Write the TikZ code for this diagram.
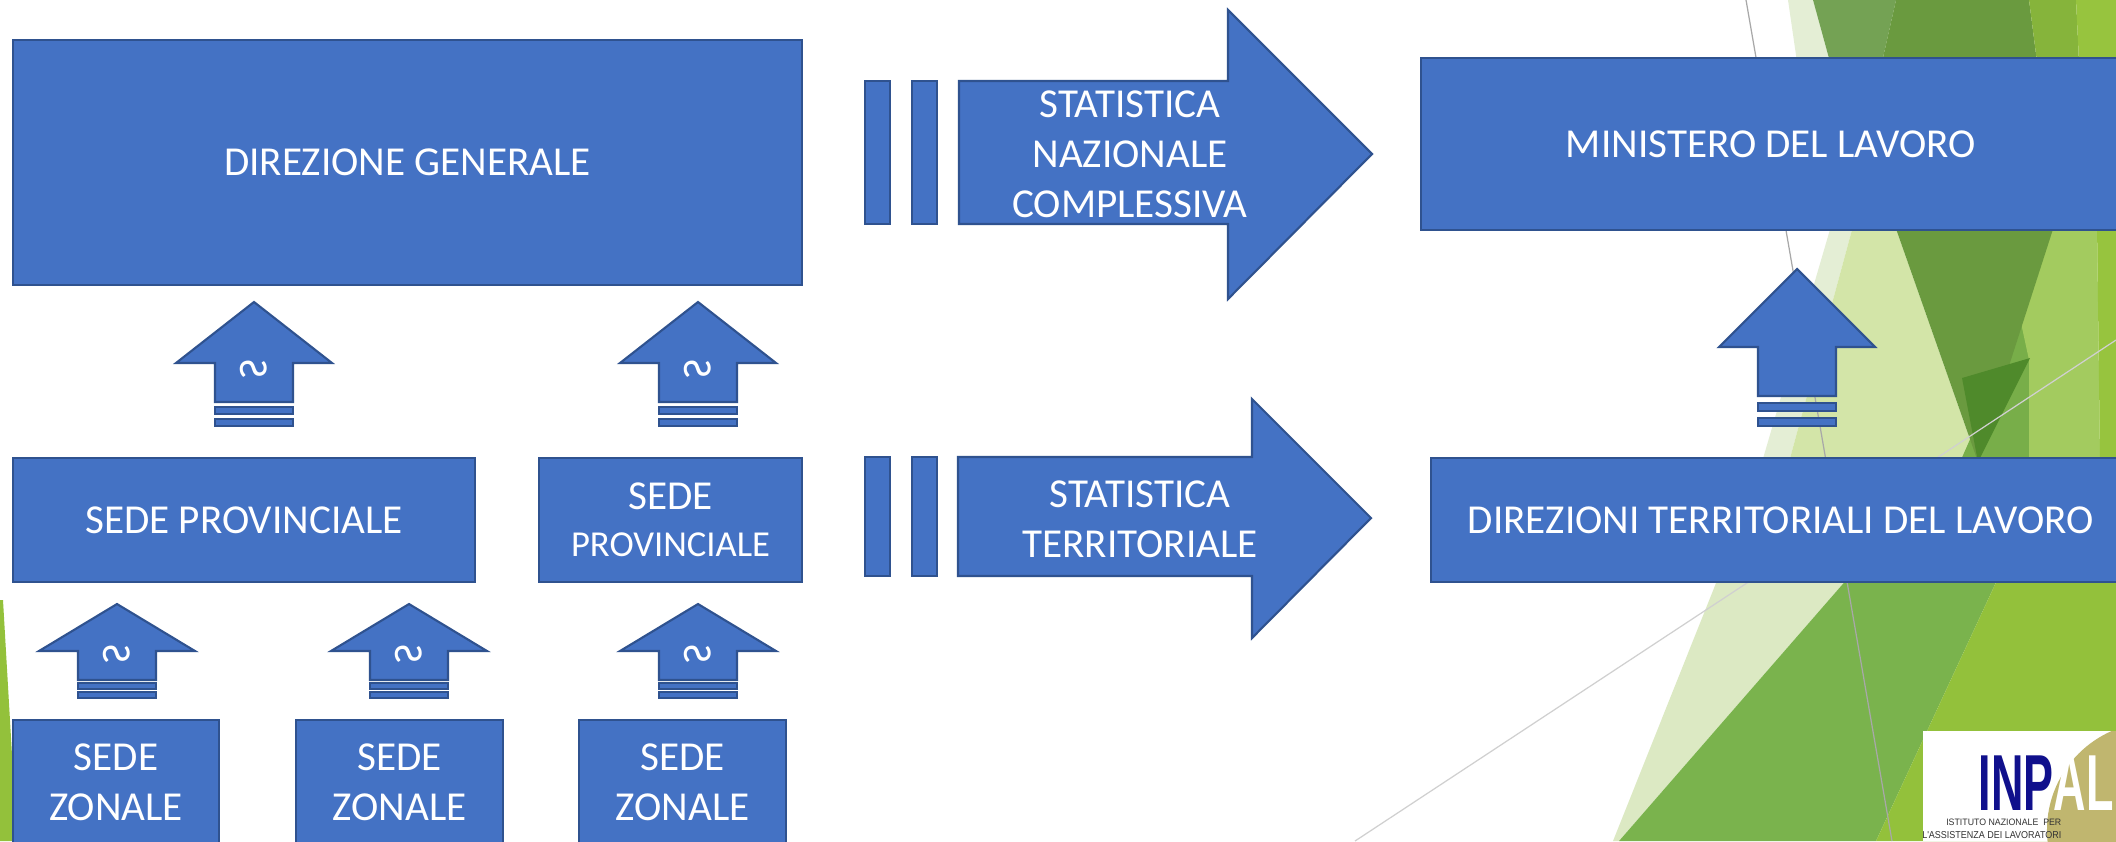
\documentclass[tikz,border=0pt]{standalone}
\usepackage{fontspec}
\usepackage{graphicx}
\usepackage{xcolor}
\usepackage{tikz}
\setmainfont{Carlito}
\newfontfamily\logofont{Liberation Sans}
\definecolor{boxfillc}{HTML}{4472C4}
\definecolor{boxlinec}{HTML}{2F528F}
\definecolor{vpale}{HTML}{E4EED5}
\definecolor{palegreen}{HTML}{D3E5A8}
\definecolor{palec}{HTML}{DCE9C3}
\definecolor{olivelight}{HTML}{74A254}
\definecolor{olive}{HTML}{6A9A3F}
\definecolor{darkolive}{HTML}{4F8A2B}
\definecolor{limeolive}{HTML}{86B43B}
\definecolor{brightlime}{HTML}{97C43E}
\definecolor{lightgreen}{HTML}{A3CB5F}
\definecolor{midgreen}{HTML}{7AB34D}
\definecolor{gmid}{HTML}{78AE49}
\definecolor{lime}{HTML}{93C13B}
\definecolor{greyline}{HTML}{A8A8A8}
\definecolor{paleline}{HTML}{D0D0D0}
\definecolor{inpnavy}{HTML}{10108C}
\definecolor{khaki}{HTML}{C0B66F}
\definecolor{logotext}{HTML}{333333}
\newcommand{\boxfont}{\fontsize{11.7}{14.2}\selectfont}
\newcommand{\turnedS}{\reflectbox{\rotatebox{90}{S}}}% S laid on its side
\newcommand{\sendup}[6]{% cx, top, head base, shaft bottom, bar, gap
    \filldraw[blockshape] (#1,#2) -- (#1+78,#3) -- (#1+39,#3) -- (#1+39,#4)
        -- (#1-39,#4) -- (#1-39,#3) -- (#1-78,#3) -- cycle;
    \filldraw[blockshape] (#1-39,#4+#6) rectangle (#1+39,#4+#6+#5);
    \filldraw[blockshape] (#1-39,#4+2*#6+#5) rectangle (#1+39,#4+2*#6+2*#5);
}
\tikzstyle{bluebox} = [
    draw=boxlinec,
    fill=boxfillc,
    line width=0.6pt,
    rectangle,
    inner sep=0pt,
    text=white,
    font=\boxfont,
    align=center
    ]
\tikzstyle{blockshape} = [
    draw=boxlinec,
    fill=boxfillc,
    line width=0.6pt
    ]
\tikzstyle{arrowtext} = [text=white, font=\boxfont, align=center, inner sep=0pt]
\tikzstyle{sglyph} = [text=white, font=\boxfont, inner sep=0pt]
\tikzstyle{facetline} = [line width=0.35pt]

\begin{document}
\begin{tikzpicture}[x=0.01cm, y=-0.01cm]
\useasboundingbox (0,0) rectangle (2116,841);
\clip (0,0) rectangle (2116,841);
\fill[white] (0,0) rectangle (2116,841);

% background facets
\fill[vpale] (1788,0) -- (1813,0) -- (1830,62) -- (1797,62) -- cycle;
\fill[olivelight] (1813,0) -- (1896,0) -- (1882,62) -- (1830,62) -- cycle;
\fill[olive] (1896,0) -- (2029,0) -- (2037,62) -- (1882,62) -- cycle;
\fill[limeolive] (2029,0) -- (2076,0) -- (2079,62) -- (2037,62) -- cycle;
\fill[brightlime] (2076,0) -- (2116,0) -- (2116,62) -- (2079,62) -- cycle;
\fill[vpale] (1831,226) -- (1853,226) -- (1789,462) -- (1762,462) -- cycle;
\fill[palegreen] (1853,226) -- (1895,226) -- (1978,462) -- (1789,462) -- cycle;
\fill[gmid] (2036,290) -- (2036,462) -- (1960,462) -- cycle;
\fill[lightgreen] (2000,226) -- (2097,226) -- (2100,462) -- (2029,462) -- (2029,360) -- cycle;
\fill[olive] (1895,226) -- (2054,226) -- (1978,462) -- cycle;
\fill[darkolive] (2030,358) -- (1962,378) -- (1978,462) -- cycle;
\fill[brightlime] (2097,226) -- (2116,226) -- (2116,462) -- (2100,462) -- cycle;
\fill[palec] (1718,578) -- (1848,578) -- (1619,841) -- (1613,841) -- cycle;
\fill[midgreen] (1848,578) -- (1998,578) -- (1876,841) -- (1619,841) -- cycle;
\fill[lime] (1998,578) -- (2116,578) -- (2116,841) -- (1876,841) -- cycle;
\fill[lime] (0,600) -- (3,600) -- (17,841) -- (0,841) -- cycle;
\draw[facetline, greyline] (1746,0) -- (1892,841);
\draw[facetline, paleline] (1355,841) -- (2116,340);

% boxes
\node[bluebox, minimum width=7.89cm, minimum height=2.45cm] (dirgen) at (407.5,162.5) {DIREZIONE GENERALE};
\node[bluebox, minimum width=4.62cm, minimum height=1.24cm] (prov1) at (244,520) {SEDE PROVINCIALE};
\node[bluebox, minimum width=2.63cm, minimum height=1.24cm] (prov2) at (670.5,520)
    {SEDE\\[-0.8pt]{\fontsize{10.4}{13.4}\selectfont PROVINCIALE}};
\node[bluebox, minimum width=2.06cm, minimum height=1.24cm] (zona1) at (116,782) {SEDE\\ZONALE};
\node[bluebox, minimum width=2.07cm, minimum height=1.24cm] (zona2) at (399.5,782) {SEDE\\ZONALE};
\node[bluebox, minimum width=2.07cm, minimum height=1.24cm] (zona3) at (682.5,782) {SEDE\\ZONALE};
\node[bluebox, minimum width=7.00cm, minimum height=1.72cm] (minist) at (1771,144) {MINISTERO DEL LAVORO};
\node[bluebox, minimum width=7.00cm, minimum height=1.24cm] (dirterr) at (1781,520) {DIREZIONI TERRITORIALI DEL LAVORO};

% up arrows
\sendup{254}{302}{363}{402}{7}{5}
\sendup{698}{302}{363}{402}{7}{5}
\sendup{117}{604}{651}{680}{6}{3}
\sendup{409}{604}{651}{680}{6}{3}
\sendup{698}{604}{651}{680}{6}{3}
\sendup{1797}{269}{347}{396}{8}{7}
\node[sglyph] (s1) at (254,369) {\turnedS};
\node[sglyph] (s2) at (698,369) {\turnedS};
\node[sglyph] (s3) at (117,654) {\turnedS};
\node[sglyph] (s4) at (409,654) {\turnedS};
\node[sglyph] (s5) at (698,654) {\turnedS};

% right arrows
\filldraw[blockshape] (865,81) rectangle (890,224);
\filldraw[blockshape] (912,81) rectangle (937,224);
\filldraw[blockshape] (959,81) -- (1228,81) -- (1228,10) -- (1372,154)
    -- (1228,299) -- (1228,224) -- (959,224) -- cycle;
\node[arrowtext] (statnaz) at (1130,154) {STATISTICA\\NAZIONALE\\COMPLESSIVA};
\filldraw[blockshape] (865,457) rectangle (890,576);
\filldraw[blockshape] (912,457) rectangle (937,576);
\filldraw[blockshape] (958,457) -- (1252,457) -- (1252,399) -- (1371,518)
    -- (1252,638) -- (1252,576) -- (958,576) -- cycle;
\node[arrowtext] (statterr) at (1140,519) {STATISTICA\\TERRITORIALE};

% logo
\fill[white] (1923,731) rectangle (2116,841);
\begin{scope}
\clip (1923,731) rectangle (2116,841);
\fill[khaki] (2155,830) circle (1.08cm);
\end{scope}
\node[anchor=base west, inner sep=0pt, font={\logofont\bfseries\fontsize{22.6}{24}\selectfont}] (inpal) at (1978,810)
    {\scalebox{0.565}[1]{\textcolor{inpnavy}{INP}\textcolor{white}{AL}}};
\node[anchor=base east, inner sep=0pt, text=logotext, font=\logofont] (inpal1) at (2062,825)
    {\resizebox{1.15cm}{0.065cm}{ISTITUTO NAZIONALE\ \ PER}};
\node[anchor=base east, inner sep=0pt, text=logotext, font=\logofont] (inpal2) at (2062,838)
    {\resizebox{1.39cm}{0.07cm}{L'ASSISTENZA DEI LAVORATORI}};
\end{tikzpicture}
\end{document}
